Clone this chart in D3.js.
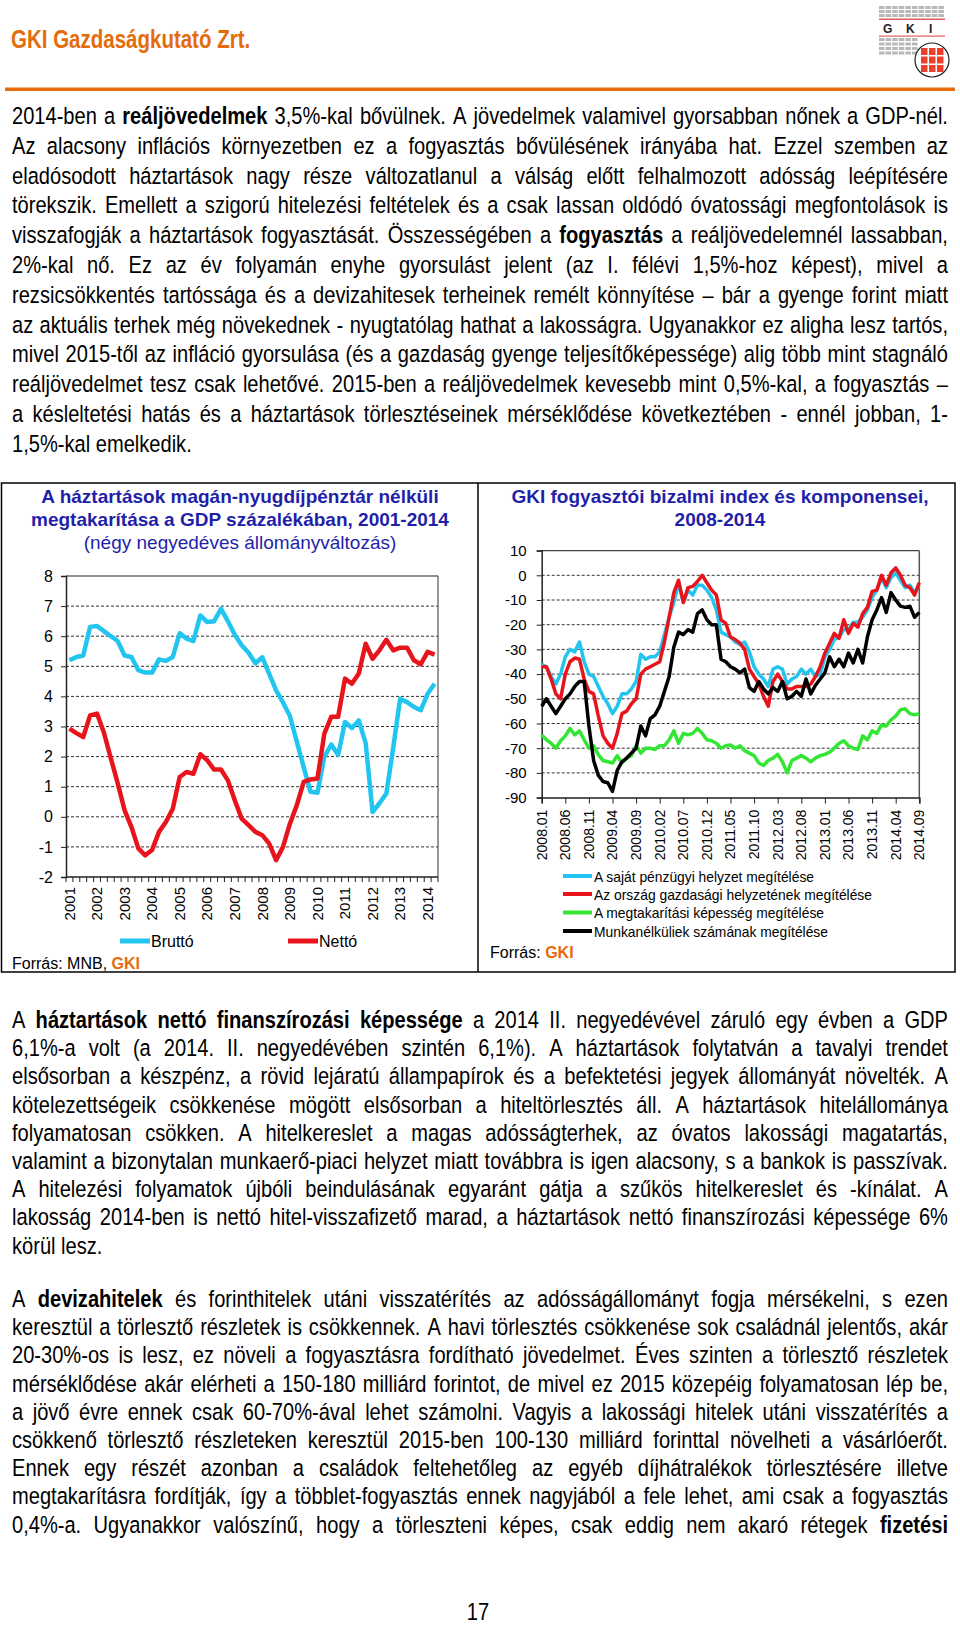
<!DOCTYPE html>
<html><head><meta charset="utf-8">
<script src="https://cdn.jsdelivr.net/npm/d3@7/dist/d3.min.js"></script>
<style>
html,body{margin:0;padding:0;background:#fff;}
svg{display:block;font-family:'Liberation Sans',Arial,sans-serif;}
</style></head>
<body>
<svg id="page" width="960" height="1629"></svg>
<script>
// ---------------- DATA ----------------
const leftYears = ["2001","2002","2003","2004","2005","2006","2007","2008","2009","2010","2011","2012","2013","2014"];
const leftYTicks = [8,7,6,5,4,3,2,1,0,-1,-2];
// quarterly, 2001Q1 .. 2014Q2
const brutto = [5.2,5.31,5.36,6.31,6.34,6.17,6.0,5.84,5.36,5.31,4.87,4.79,4.79,5.23,5.18,5.31,6.1,5.92,5.84,6.69,6.47,6.5,6.91,6.5,6.05,5.7,5.45,5.1,5.3,4.75,4.2,3.8,3.35,2.5,1.65,0.83,0.8,2.0,2.4,2.05,3.15,2.95,3.2,2.45,0.16,0.45,0.77,2.3,3.92,3.81,3.65,3.54,4.09,4.42];
const netto = [2.93,2.78,2.65,3.37,3.43,2.8,1.95,1.12,0.22,-0.34,-1.05,-1.28,-1.1,-0.5,-0.17,0.27,1.32,1.49,1.43,2.08,1.88,1.57,1.57,1.21,0.55,-0.06,-0.28,-0.5,-0.61,-0.89,-1.44,-1.0,-0.23,0.38,1.16,1.24,1.27,2.76,3.32,3.32,4.59,4.42,4.76,5.75,5.25,5.53,5.88,5.53,5.62,5.62,5.2,5.07,5.48,5.39];
const leftSeriesNames = ["Bruttó","Nettó"];

const rightXLabels = ["2008.01","2008.06","2008.11","2009.04","2009.09","2010.02","2010.07","2010.12","2011.05","2011.10","2012.03","2012.08","2013.01","2013.06","2013.11","2014.04","2014.09"];
const rightYTicks = [10,0,-10,-20,-30,-40,-50,-60,-70,-80,-90];
// monthly, 2008.01 .. 2014.09
const sajat = [-36,-37,-41,-44,-40,-33,-30,-31,-27,-35,
 -40,-41,-45,-49,-52,-56,-53,-48,-48,-46,
 -43,-32,-34,-33,-33,-31,-24,-17,-11,-3,
 -11,-6,-8,-4,-4,-6,-9,-14,-23,-24,
 -25,-27,-28,-27,-31,-37,-40,-42,-45,-38,
 -37,-38,-44,-42,-41,-38,-40,-38,-41,-40,
 -33,-30,-26,-25,-22,-22,-19,-19,-17,-14,
 -9,-6,-1,-5,-1,1,-2,-5,-4,-7,
 -4];
const orszag = [-37,-37,-42,-48,-50,-40,-35,-33.5,-34,-42,
 -47,-48,-57,-65,-68,-70,-64,-56,-55,-52,
 -50,-40,-38,-37,-36,-35,-27,-17,-7,-2,
 -11,-5,-4.5,-2.5,0,-3,-6,-8,-18,-19.5,
 -25,-26,-27.5,-30,-38,-41,-44,-49,-53,-43,
 -40,-43,-46,-46,-45,-45,-45,-44,-41,-37,
 -31.5,-27.5,-23.5,-25.5,-18,-23.5,-19.5,-21,-15.5,-13,
 -6.5,-6,0,-4,1,3,0,-4,-5,-8,
 -3];
const megtak = [-64.6,-66.6,-68,-70,-67,-65,-62,-64.6,-63,-66.6,
 -70,-69,-72.6,-75,-75.5,-76,-73,-76,-74,-73,
 -69,-72,-70,-70,-70.5,-69,-69,-66.6,-63,-68,
 -64,-64.6,-64,-62,-64,-66.6,-67,-68,-70,-69,
 -68.7,-70,-69,-71,-72,-73,-76,-77,-75,-74,
 -72.5,-75.5,-80,-75,-74,-73,-74,-75.5,-74,-73,
 -72.5,-71.6,-70,-68,-67,-69,-70,-70.5,-65,-66.6,
 -63,-64,-60.6,-61,-58.5,-57,-54.5,-54,-56,-56.5,
 -56];
const munka = [-53,-50,-53,-56,-53,-50,-48,-45,-43,-43,
 -61,-75,-81,-83.5,-84,-87.5,-79,-75.5,-74,-72,
 -70,-61,-65,-58,-56.5,-53,-47,-41,-29,-23,
 -24,-22,-23,-15.5,-14,-18,-20,-20,-34,-35,
 -37,-38,-39.5,-38,-45.5,-47,-43,-46,-48,-45.5,
 -47,-43,-50,-49,-47,-49,-42,-48,-44.5,-42,
 -39.5,-33,-37,-34,-37,-31.5,-35.5,-30,-35.5,-25,
 -18,-14,-9,-15,-7,-10,-12.5,-13,-12.5,-17,
 -15];
const rightSeriesNames = ["A saját pénzügyi helyzet megítélése","Az ország gazdasági helyzetének megítélése","A megtakarítási képesség megítélése","Munkanélküliek számának megítélése"];

// ---------------- TEXT ----------------
const para1 = [
"2014-ben a **reáljövedelmek** 3,5%-kal bővülnek. A jövedelmek valamivel gyorsabban nőnek a GDP-nél.",
"Az alacsony inflációs környezetben ez a fogyasztás bővülésének irányába hat. Ezzel szemben az",
"eladósodott háztartások nagy része változatlanul a válság előtt felhalmozott adósság leépítésére",
"törekszik. Emellett a szigorú hitelezési feltételek és a csak lassan oldódó óvatossági megfontolások is",
"visszafogják a háztartások fogyasztását. Összességében a **fogyasztás** a reáljövedelemnél lassabban,",
"2%-kal nő. Ez az év folyamán enyhe gyorsulást jelent (az I. félévi 1,5%-hoz képest), mivel a",
"rezsicsökkentés tartóssága és a devizahitesek terheinek remélt könnyítése – bár a gyenge forint miatt",
"az aktuális terhek még növekednek - nyugtatólag hathat a lakosságra. Ugyanakkor ez aligha lesz tartós,",
"mivel 2015-től az infláció gyorsulása (és a gazdaság gyenge teljesítőképessége) alig több mint stagnáló",
"reáljövedelmet tesz csak lehetővé. 2015-ben a reáljövedelmek kevesebb mint 0,5%-kal, a fogyasztás –",
"a késleltetési hatás és a háztartások törlesztéseinek mérséklődése következtében - ennél jobban, 1-",
"1,5%-kal emelkedik."];
const para2 = [
"A **háztartások nettó finanszírozási képessége** a 2014 II. negyedévével záruló egy évben a GDP",
"6,1%-a volt (a 2014. II. negyedévében szintén 6,1%). A háztartások folytatván a tavalyi trendet",
"elsősorban a készpénz, a rövid lejáratú állampapírok és a befektetési jegyek állományát növelték. A",
"kötelezettségeik csökkenése mögött elsősorban a hiteltörlesztés áll. A háztartások hitelállománya",
"folyamatosan csökken. A hitelkereslet a magas adósságterhek, az óvatos lakossági magatartás,",
"valamint a bizonytalan munkaerő-piaci helyzet miatt továbbra is igen alacsony, s a bankok is passzívak.",
"A hitelezési folyamatok újbóli beindulásának egyaránt gátja a szűkös hitelkereslet és -kínálat. A",
"lakosság 2014-ben is nettó hitel-visszafizető marad, a háztartások nettó finanszírozási képessége 6%",
"körül lesz."];
const para3 = [
"A **devizahitelek** és forinthitelek utáni visszatérítés az adósságállományt fogja mérsékelni, s ezen",
"keresztül a törlesztő részletek is csökkennek. A havi törlesztés csökkenése sok családnál jelentős, akár",
"20-30%-os is lesz, ez növeli a fogyasztásra fordítható jövedelmet. Éves szinten a törlesztő részletek",
"mérséklődése akár elérheti a 150-180 milliárd forintot, de mivel ez 2015 közepéig folyamatosan lép be,",
"a jövő évre ennek csak 60-70%-ával lehet számolni. Vagyis a lakossági hitelek utáni visszatérítés a",
"csökkenő törlesztő részleteken keresztül 2015-ben 100-130 milliárd forinttal növelheti a vásárlóerőt.",
"Ennek egy részét azonban a családok feltehetőleg az egyéb díjhátralékok törlesztésére illetve",
"megtakarításra fordítják, így a többlet-fogyasztás ennek nagyjából a fele lehet, ami csak a fogyasztás",
"0,4%-a. Ugyanakkor valószínű, hogy a törleszteni képes, csak eddig nem akaró rétegek **fizetési**"];

// ---------------- DRAW ----------------
const svg = d3.select("#page");
const ORANGE = "#E46C0A", BLUE = "#1F1FAA";
const CYAN = "#22C4F0", RED = "#E8141C", GREEN = "#33E633", BLACK = "#000";
const fmt = d => String(d);

// narrow face: use a real narrow font if installed, otherwise condense the regular face
const NARROW_FAM = "'Liberation Sans Narrow','Arial Narrow','Liberation Sans',Arial,sans-serif";
function measureFam(fam) {
  const t = svg.append("text").attr("font-family", fam).attr("font-size", 100).text("abcdefghijklmnop");
  const w = t.node().getComputedTextLength(); t.remove(); return w;
}
const narrowRatio = measureFam(NARROW_FAM) / measureFam("'Liberation Sans',Arial,sans-serif");
const SX0 = narrowRatio < 0.9 ? 1 : 0.82;

// header
(function(){
  const g = svg.append("g").attr("transform", `translate(11,48) scale(${SX0},1)`);
  g.append("text").attr("x", 0).attr("y", 0).attr("font-family", NARROW_FAM).attr("font-size", 25)
    .attr("font-weight", "bold").attr("fill", ORANGE).text("GKI Gazdaságkutató Zrt.");
})();
svg.append("rect").attr("x", 5).attr("y", 87.5).attr("width", 950).attr("height", 3.5).attr("fill", ORANGE);

// logo
(function(){
  const g = svg.append("g").attr("transform", "translate(877,6)");
  for (let r = 0; r < 3; r++) for (let c = 0; c < 10; c++)
    g.append("rect").attr("x", 2 + c*6.6).attr("y", r*4).attr("width", 5.5).attr("height", 3).attr("fill", "#b8b8b8");
  g.append("rect").attr("x", 2).attr("y", 12.5).attr("width", 66).attr("height", 1.5).attr("fill", "#e06060");
  [["G",6],["K",29],["I",52]].forEach(l => g.append("text").attr("x", l[1]).attr("y", 27).attr("font-size", 12)
    .attr("font-weight", "bold").attr("fill", "#222").text(l[0]));
  g.append("rect").attr("x", 2).attr("y", 29.5).attr("width", 66).attr("height", 1.2).attr("fill", "#e06060");
  for (let r = 0; r < 4; r++) for (let c = 0; c < 6; c++)
    g.append("rect").attr("x", 2 + c*6.6).attr("y", 32 + r*4.5).attr("width", 5.5).attr("height", 3).attr("fill", "#b8b8b8");
  g.append("circle").attr("cx", 55).attr("cy", 54).attr("r", 17).attr("fill", "#fff").attr("stroke", "#222").attr("stroke-width", 1.2);
  for (let r = 0; r < 3; r++) for (let c = 0; c < 3; c++)
    g.append("rect").attr("x", 44 + c*8).attr("y", 42 + r*8.5).attr("width", 6.5).attr("height", 7).attr("fill", "#e8402a");
})();

// justified body text
const FS = 24.5, TX0 = 12, TX1 = 948;
const bodyG = svg.append("g").attr("font-family", NARROW_FAM).attr("font-size", FS).attr("fill", "#000");
function parseSegs(s) { return s.split("**").map((t, i) => ({t, b: i % 2 === 1})); }
function drawLine(line, yBase, justify) {
  const words = [];
  parseSegs(line).forEach(sg => sg.t.split(" ").forEach(w => { if (w) words.push({w, b: sg.b}); }));
  const gl = bodyG.append("g");
  const nodes = words.map(d => gl.append("text").attr("y", 0)
    .attr("font-weight", d.b ? "bold" : "normal").text(d.w));
  const widths = nodes.map(n => n.node().getComputedTextLength());
  const sum = d3.sum(widths);
  const W = TX1 - TX0;
  const sp = FS * 0.278 * SX0;     // space width on the page
  let sx = SX0, gap = sp;
  const gaps = words.length - 1;
  if (sum * sx + gaps * sp * 0.85 > W) sx = (W - gaps * sp * 0.85) / sum;
  if (justify && gaps > 0) gap = (W - sum * sx) / gaps;
  let cur = 0;
  nodes.forEach((n, i) => { n.attr("x", cur / sx); cur += widths[i] * sx + gap; });
  gl.attr("transform", `translate(${TX0},${yBase}) scale(${sx},1)`);
}
function drawPara(lines, yCenter0, step, lastJustified) {
  lines.forEach((l, i) => drawLine(l, yCenter0 + i * step + 8, i < lines.length - 1 || lastJustified));
}
drawPara(para1, 116, 29.8, false);
drawPara(para2, 1020, 28.2, false);
drawPara(para3, 1299, 28.2, true);

svg.append("g").attr("transform", `translate(478,1620) scale(${SX0},1)`)
  .append("text").attr("text-anchor", "middle").attr("font-family", NARROW_FAM).attr("font-size", FS).text("17");

// charts box
svg.append("rect").attr("x", 1.5).attr("y", 483).attr("width", 953.5).attr("height", 489)
  .attr("fill", "none").attr("stroke", "#000").attr("stroke-width", 1.5);
svg.append("line").attr("x1", 478).attr("x2", 478).attr("y1", 483).attr("y2", 972).attr("stroke", "#000").attr("stroke-width", 1.5);

// ---------- LEFT CHART ----------
(function(){
  const g = svg.append("g");
  const P = {x0: 66, x1: 438, y0: 576, y1: 877};
  const n = brutto.length;
  const x = d3.scalePoint().domain(d3.range(n)).range([P.x0, P.x1]).padding(0.5);
  const step = x.step();
  const y = d3.scaleLinear().domain([-2, 8]).range([P.y1, P.y0]);

  const tl = [["A háztartások magán-nyugdíjpénztár nélküli", "bold", 503],
              ["megtakarítása a GDP százalékában, 2001-2014", "bold", 526],
              ["(négy negyedéves állományváltozás)", "normal", 549]];
  tl.forEach(t => g.append("text").attr("x", 240).attr("y", t[2]).attr("text-anchor", "middle")
    .attr("font-size", 19).attr("font-weight", t[1]).attr("fill", BLUE).text(t[0]));

  g.selectAll(".gl").data(leftYTicks.filter(v => v > -2 && v < 8)).join("line")
    .attr("x1", P.x0).attr("x2", P.x1).attr("y1", d => y(d)).attr("y2", d => y(d))
    .attr("stroke", "#333").attr("stroke-width", 1).attr("stroke-dasharray", "3,2");
  g.append("line").attr("x1", P.x0).attr("x2", P.x1).attr("y1", y(8)).attr("y2", y(8)).attr("stroke", "#222").attr("stroke-width", 1.2);
  g.append("line").attr("x1", P.x1).attr("x2", P.x1).attr("y1", y(8)).attr("y2", y(-2)).attr("stroke", "#555").attr("stroke-width", 1.2);

  const ya = d3.axisLeft(y).tickValues(leftYTicks).tickSize(5).tickPadding(8).tickFormat(fmt);
  const yg = g.append("g").attr("transform", `translate(${P.x0},0)`).call(ya);
  yg.select(".domain").attr("stroke", "#222").attr("stroke-width", 1.5);
  yg.selectAll(".tick line").attr("stroke", "#222");
  yg.selectAll("text").attr("font-size", 16).attr("fill", "#000").attr("font-family", "'Liberation Sans',Arial,sans-serif");

  g.append("line").attr("x1", P.x0).attr("x2", P.x1).attr("y1", P.y1).attr("y2", P.y1).attr("stroke", "#222").attr("stroke-width", 1.5);
  g.selectAll(".xt").data(d3.range(n + 1)).join("line")
    .attr("x1", k => P.x0 + k * step).attr("x2", k => P.x0 + k * step)
    .attr("y1", P.y1).attr("y2", P.y1 + 5).attr("stroke", "#222").attr("stroke-width", 1);
  g.selectAll(".xl").data(leftYears).join("text")
    .attr("transform", (d, i) => `translate(${x(i * 4)},${P.y1 + 10}) rotate(-90)`)
    .attr("text-anchor", "end").attr("dy", "0.35em").attr("font-size", 15).text(d => d);

  const line = d3.line().x((d, i) => x(i)).y(d => y(d));
  g.append("path").datum(brutto).attr("d", line).attr("fill", "none").attr("stroke", CYAN).attr("stroke-width", 4.5).attr("stroke-linejoin", "round");
  g.append("path").datum(netto).attr("d", line).attr("fill", "none").attr("stroke", RED).attr("stroke-width", 4.5).attr("stroke-linejoin", "round");

  const lg = [[CYAN, 120, leftSeriesNames[0]], [RED, 288, leftSeriesNames[1]]];
  lg.forEach(l => {
    g.append("line").attr("x1", l[1]).attr("x2", l[1] + 30).attr("y1", 941).attr("y2", 941).attr("stroke", l[0]).attr("stroke-width", 5);
    g.append("text").attr("x", l[1] + 31).attr("y", 947).attr("font-size", 16).text(l[2]);
  });
  const f = g.append("text").attr("x", 12).attr("y", 969).attr("font-size", 16);
  f.append("tspan").text("Forrás: MNB, ");
  f.append("tspan").attr("fill", ORANGE).attr("font-weight", "bold").text("GKI");
})();

// ---------- RIGHT CHART ----------
(function(){
  const g = svg.append("g");
  const P = {x0: 541.7, x1: 919.3, y0: 550.6, y1: 797.6};
  const n = sajat.length;
  const x = d3.scaleLinear().domain([0, n - 1]).range([P.x0, P.x1]);
  const y = d3.scaleLinear().domain([-90, 10]).range([P.y1, P.y0]);

  const tl = [["GKI fogyasztói bizalmi index és komponensei,", 503], ["2008-2014", 526]];
  tl.forEach(t => g.append("text").attr("x", 720).attr("y", t[1]).attr("text-anchor", "middle")
    .attr("font-size", 19).attr("font-weight", "bold").attr("fill", BLUE).text(t[0]));

  g.selectAll(".gl").data(rightYTicks.filter(v => v > -90 && v < 10)).join("line")
    .attr("x1", P.x0).attr("x2", P.x1).attr("y1", d => y(d)).attr("y2", d => y(d))
    .attr("stroke", "#333").attr("stroke-width", 1).attr("stroke-dasharray", "3,2");
  g.append("line").attr("x1", P.x0).attr("x2", P.x1).attr("y1", y(10)).attr("y2", y(10)).attr("stroke", "#444").attr("stroke-width", 1.2);
  g.append("line").attr("x1", P.x1).attr("x2", P.x1).attr("y1", y(10)).attr("y2", y(-90)).attr("stroke", "#555").attr("stroke-width", 1.5);

  const ya = d3.axisLeft(y).tickValues(rightYTicks).tickSize(5).tickPadding(10).tickFormat(fmt);
  const yg = g.append("g").attr("transform", `translate(${P.x0},0)`).call(ya);
  yg.select(".domain").attr("stroke", "#222").attr("stroke-width", 1.5);
  yg.selectAll(".tick line").attr("stroke", "#222");
  yg.selectAll("text").attr("font-size", 15).attr("fill", "#000").attr("font-family", "'Liberation Sans',Arial,sans-serif");

  const tickIdx = rightXLabels.map((d, i) => i * 5);
  const xa = d3.axisBottom(x).tickValues(tickIdx).tickSize(6).tickFormat("");
  const xg = g.append("g").attr("transform", `translate(0,${P.y1})`).call(xa);
  xg.select(".domain").attr("stroke", "#222").attr("stroke-width", 1.5);
  xg.selectAll(".tick line").attr("stroke", "#222");
  g.selectAll(".xl").data(rightXLabels).join("text")
    .attr("transform", (d, i) => `translate(${x(tickIdx[i])},${P.y1 + 12}) rotate(-90)`)
    .attr("text-anchor", "end").attr("dy", "0.35em").attr("font-size", 14).text(d => d);

  const line = d3.line().x((d, i) => x(i)).y(d => y(d));
  const series = [[sajat, CYAN], [orszag, RED], [megtak, GREEN], [munka, BLACK]];
  series.forEach(s => g.append("path").datum(s[0]).attr("d", line).attr("fill", "none")
    .attr("stroke", s[1]).attr("stroke-width", 3.5).attr("stroke-linejoin", "round"));

  const legW = [220, 278, 230, 234];
  const rowY = [876, 894, 912.5, 931];
  series.forEach((s, i) => {
    g.append("line").attr("x1", 563).attr("x2", 592).attr("y1", rowY[i]).attr("y2", rowY[i]).attr("stroke", s[1]).attr("stroke-width", 4);
    g.append("text").attr("x", 594).attr("y", rowY[i] + 5.5).attr("font-size", 15)
      .attr("textLength", legW[i]).attr("lengthAdjust", "spacingAndGlyphs").text(rightSeriesNames[i]);
  });
  const f = g.append("text").attr("x", 490).attr("y", 958).attr("font-size", 16);
  f.append("tspan").text("Forrás: ");
  f.append("tspan").attr("fill", ORANGE).attr("font-weight", "bold").text("GKI");
})();
</script>
</body></html>
